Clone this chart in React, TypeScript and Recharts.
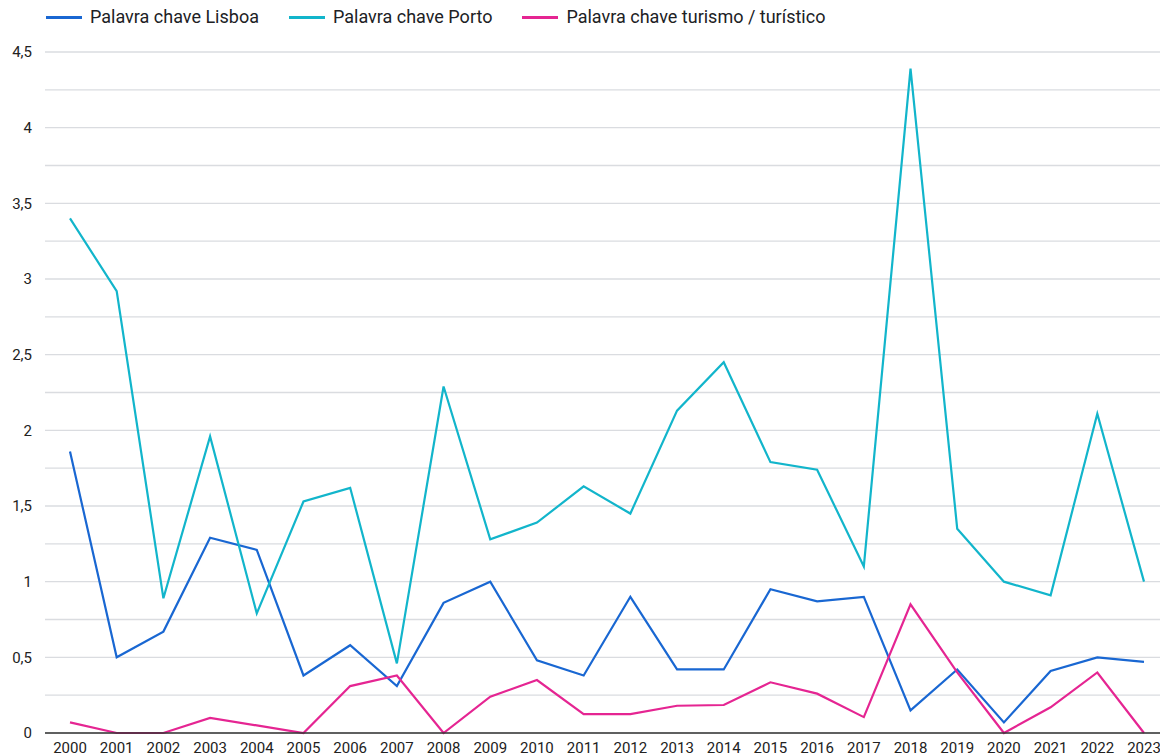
import React from 'react';
import { LineChart, Line, XAxis, YAxis, CartesianGrid, Legend } from 'recharts';

const years = ['2000','2001','2002','2003','2004','2005','2006','2007','2008','2009','2010','2011','2012','2013','2014','2015','2016','2017','2018','2019','2020','2021','2022','2023'];
const lisboa = [1.86,0.5,0.67,1.29,1.21,0.38,0.58,0.31,0.86,1.0,0.48,0.38,0.9,0.42,0.42,0.95,0.87,0.9,0.15,0.42,0.07,0.41,0.5,0.47];
const porto = [3.4,2.92,0.89,1.96,0.79,1.53,1.62,0.46,2.29,1.28,1.39,1.63,1.45,2.13,2.45,1.79,1.74,1.1,4.39,1.35,1.0,0.91,2.11,1.0];
const turismo = [0.07,0,0,0.1,0.05,0,0.31,0.38,0,0.24,0.35,0.125,0.125,0.18,0.185,0.335,0.26,0.105,0.85,0.4,0,0.17,0.4,0];
const yTicks = [0,0.5,1,1.5,2,2.5,3,3.5,4,4.5];
const gridValues = [0,0.25,0.5,0.75,1,1.25,1.5,1.75,2,2.25,2.5,2.75,3,3.25,3.5,3.75,4,4.25,4.5];

const seriesNames = ['Palavra chave Lisboa','Palavra chave Porto','Palavra chave turismo / turístico'];
const colors = ['#1967d2','#12b5cb','#e52592'];

const data = years.map((y, i) => ({ year: y, lisboa: lisboa[i], porto: porto[i], turismo: turismo[i] }));

const FONT = 'Roboto, "Noto Sans", sans-serif';

const LegendContent = (props: any) => {
  const payload = props.payload || [];
  return (
    <div style={{ height: 48, boxSizing: 'border-box', paddingTop: 1, paddingLeft: 46, display: 'flex', alignItems: 'flex-start', fontFamily: FONT }}>
      {payload.map((p: any, i: number) => (
        <div key={i} style={{ display: 'flex', alignItems: 'center', height: 24, marginRight: 30 }}>
          <div style={{ width: 36, height: 3, background: p.color, marginRight: 8 }} />
          <span style={{ fontSize: 18, color: '#202124', lineHeight: '24px', whiteSpace: 'nowrap' }}>{p.value}</span>
        </div>
      ))}
    </div>
  );
};

export default function App() {
  return (
    <div style={{ position: 'absolute', left: 0, top: 0, width: 1160, height: 755, background: '#fff' }}>
      <LineChart width={1160} height={755} data={data} margin={{ top: 4, right: 0, bottom: 0, left: 0 }}>
        <CartesianGrid vertical={false} horizontalValues={gridValues} stroke="#dadce0" strokeWidth={1.3} />
        <XAxis
          dataKey="year"
          interval={0}
          height={22}
          padding={{ left: 25, right: 16 }}
          tickLine={false}
          tickSize={6}
          tickMargin={3}
          axisLine={{ stroke: '#333', strokeWidth: 1.5 }}
          tick={{ fontSize: 15, fill: '#222', fontFamily: FONT }}
        />
        <YAxis
          width={45}
          domain={[0, 4.5]}
          ticks={yTicks}
          interval={0}
          axisLine={false}
          tickLine={false}
          tickSize={6}
          tickMargin={7}
          tickFormatter={(v: number) => String(v).replace('.', ',')}
          tick={{ fontSize: 15, fill: '#222', fontFamily: FONT }}
        />
        <Legend verticalAlign="top" align="left" content={<LegendContent />} />
        <Line type="linear" dataKey="lisboa" name={seriesNames[0]} stroke={colors[0]} strokeWidth={2.2} dot={false} isAnimationActive={false} />
        <Line type="linear" dataKey="porto" name={seriesNames[1]} stroke={colors[1]} strokeWidth={2.2} dot={false} isAnimationActive={false} />
        <Line type="linear" dataKey="turismo" name={seriesNames[2]} stroke={colors[2]} strokeWidth={2.2} dot={false} isAnimationActive={false} />
      </LineChart>
    </div>
  );
}
